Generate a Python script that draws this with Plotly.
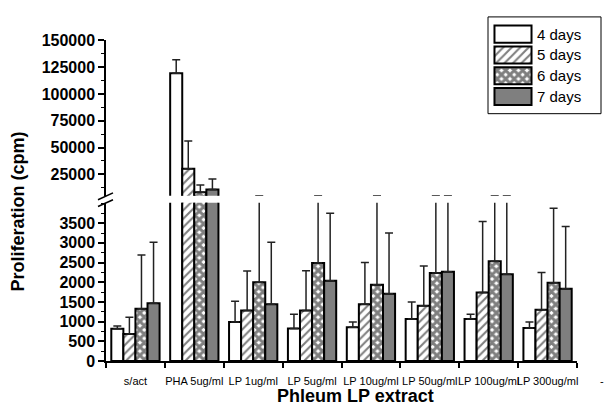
import plotly.graph_objects as go

categories = ["s/act", "PHA 5ug/ml", "LP 1ug/ml", "LP 5ug/ml", "LP 10ug/ml",
              "LP 50ug/ml", "LP 100ug/ml", "LP 300ug/ml"]
series_names = ["4 days", "5 days", "6 days", "7 days"]

days4 = [820, 119300, 990, 825, 860, 1065, 1065, 840]
days5 = [685, 30200, 1285, 1285, 1440, 1400, 1740, 1300]
days6 = [1325, 8300, 2000, 2490, 1935, 2235, 2535, 1990]
days7 = [1465, 10850, 1440, 2035, 1710, 2265, 2200, 1835]

# upper ends of error bars (mean + SD)
err4 = [890, 132000, 1515, 1185, 990, 1500, 1185, 990]
err5 = [1110, 56000, 2285, 2290, 2500, 2415, 3540, 2250]
err6 = [2690, 15000, 5000, 5000, 5000, 5000, 5000, 3880]
err7 = [3015, 20500, 3015, 3750, 3250, 5000, 4950, 3415]

lower_ticks = [0, 500, 1000, 1500, 2000, 2500, 3000, 3500]
upper_ticks = [25000, 50000, 75000, 100000, 125000, 150000]

values = [days4, days5, days6, days7]
tops = [err4, err5, err6, err7]

styles = [
    dict(color="white", pattern=dict(shape="")),
    dict(color="white", pattern=dict(shape="/", fgcolor="black", bgcolor="white", size=6, solidity=0.35)),
    dict(color="white", pattern=dict(shape="x", fgcolor="black", bgcolor="white", size=6, solidity=0.75)),
    dict(color="#7f7f7f", pattern=dict(shape="")),
]

FONT = "Arial, Liberation Sans, sans-serif"

# geometry helpers (pixel -> paper)
L, R, T, B = 106, 577, 5, 361
W, H = R - L, B - T
def px(x):
    return (x - L) / W
def py(y):
    return (B - y) / H

fig = go.Figure()
for yax in ["y", "y2"]:
    for name, vals, top, st in zip(series_names, values, tops, styles):
        fig.add_trace(go.Bar(
            x=categories, y=vals, name=name, yaxis=yax, xaxis="x",
            showlegend=False,
            marker=dict(color=st["color"], pattern=st["pattern"],
                        line=dict(color="black", width=2)),
            error_y=dict(type="data", symmetric=False,
                         array=[t - v for t, v in zip(top, vals)],
                         arrayminus=[0] * len(vals),
                         color="#222222", thickness=1.5, width=4),
        ))

# legend swatches drawn as bars in a small hidden subplot
for name, st in zip(series_names, styles):
    fig.add_trace(go.Bar(
        y=[name], x=[1], orientation="h", xaxis="x3", yaxis="y3",
        showlegend=False, hoverinfo="skip",
        marker=dict(color=st["color"], pattern=st["pattern"],
                    line=dict(color="black", width=2)),
    ))

axis_common = dict(ticks="outside", ticklen=6, tickwidth=1.5, tickcolor="black",
                   showline=True, linecolor="black", linewidth=1.5,
                   tickfont=dict(size=16, family=FONT),
                   showgrid=False, zeroline=False, anchor="x")

fig.update_layout(
    width=604, height=409,
    margin=dict(l=L, r=604 - R, t=T, b=409 - B),
    paper_bgcolor="white", plot_bgcolor="white",
    barmode="group", bargap=0.18, bargroupgap=0,
    font=dict(family=FONT, color="black"),
    showlegend=False,
    xaxis=dict(type="category", range=[-0.5, 7.5], tickson="boundaries",
               ticks="outside", ticklen=5, tickwidth=1.5, tickcolor="black",
               showline=True, linecolor="black", linewidth=1.5,
               tickangle=0, tickfont=dict(size=11, family=FONT),
               ticklabelstandoff=9,
               showgrid=False, zeroline=False, anchor="y"),
    yaxis=dict(domain=[0, py(199)], range=[0, (B - 199) * 3500 / (B - 220)],
               tickmode="array", tickvals=lower_ticks,
               ticktext=["<b>%d</b>" % v for v in lower_ticks],
               minor=dict(ticks="outside", ticklen=3, dtick=250, tick0=0, tickcolor="black", tickwidth=1),
               **axis_common),
    yaxis2=dict(domain=[py(192), py(33)], range=[150000 - (192 - 33) * 125000 / (170 - 33), 150000],
                tickmode="array", tickvals=upper_ticks,
                ticktext=["<b>%d</b>" % v for v in upper_ticks],
                minor=dict(ticks="outside", ticklen=3, dtick=12500, tick0=0, tickcolor="black", tickwidth=1),
                **axis_common),
    xaxis3=dict(domain=[px(493), px(533)], range=[-0.04, 1.04], visible=False,
                anchor="y3", fixedrange=True),
    yaxis3=dict(domain=[py(101), py(16)], type="category", autorange="reversed",
                visible=False, anchor="x3", fixedrange=True),
)

# legend box
fig.add_shape(type="rect", xref="paper", yref="paper",
              x0=px(488), y0=py(108), x1=px(601), y1=py(9),
              line=dict(color="black", width=1), fillcolor="rgba(0,0,0,0)", layer="below")
for i, name in enumerate(series_names):
    fig.add_annotation(text=name, xref="paper", yref="paper",
                       x=px(535), y=py(26.5 + 21.3 * i), xanchor="left", yanchor="middle",
                       showarrow=False, font=dict(size=15, family=FONT))

# axis break marks
for y0 in (196, 203):
    fig.add_shape(type="line", xref="paper", yref="paper",
                  x0=px(98), y0=py(y0), x1=px(113), y1=py(y0 - 7),
                  line=dict(color="black", width=1.5))

fig.add_annotation(text="<b>Phleum LP extract</b>", xref="paper", yref="paper",
                   x=px(355), y=py(397), xanchor="center", yanchor="middle",
                   showarrow=False, font=dict(size=18, family=FONT))
fig.add_annotation(text="<b>Proliferation (cpm)</b>", xref="paper", yref="paper",
                   x=px(18), y=py(208), xanchor="center", yanchor="middle",
                   showarrow=False, textangle=-90,
                   font=dict(size=18, family=FONT))
fig.add_annotation(text="-", xref="paper", yref="paper",
                   x=px(602), y=py(381), xanchor="center", yanchor="middle",
                   showarrow=False, font=dict(size=11, family=FONT))

fig.write_html("out.html")
